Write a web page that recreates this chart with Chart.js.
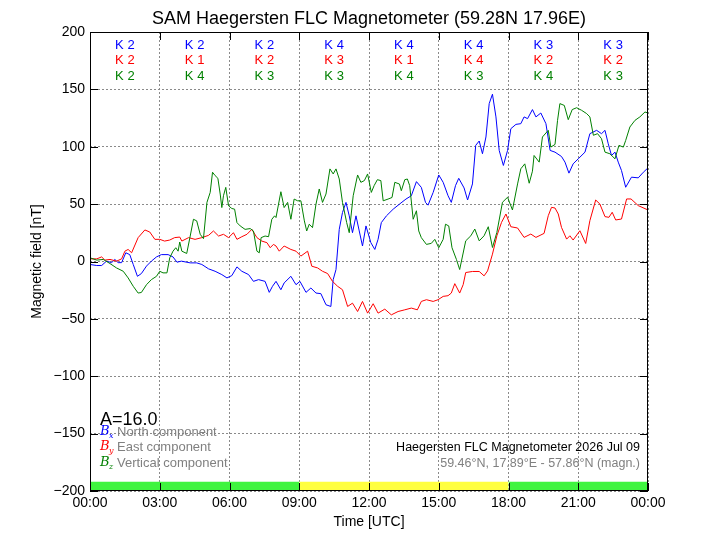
<!DOCTYPE html>
<html>
<head>
<meta charset="utf-8">
<script src="https://cdn.jsdelivr.net/npm/chart.js@4.4.0/dist/chart.umd.min.js"></script>
<style>
body { margin: 0; background: #fff; }
</style>
</head>
<body>
<canvas id="mag" width="720" height="540"></canvas>
<script>
// hours UTC / nT
var northT = [0, 0.29, 0.5, 0.71, 0.93, 1.07, 1.21, 1.36, 1.54, 1.71, 1.86, 2.04, 2.21, 2.43, 2.64, 2.86, 3.07, 3.36, 3.57, 3.74, 3.93,
    4.31, 4.59, 4.81, 5.10, 5.38, 5.67, 5.89, 6.10, 6.32, 6.53, 6.82, 7.03, 7.25, 7.53, 7.71, 7.85,
    8.0, 8.21, 8.35, 8.64, 8.86, 9.03, 9.29, 9.50, 9.72, 9.93, 10.15, 10.36, 10.46, 10.58, 10.72, 10.86, 11.01, 11.15, 11.29, 11.44, 11.58, 11.72, 11.87,
    12.08, 12.25, 12.39, 12.53, 12.75, 13.04, 13.31, 13.59, 13.82, 14.04, 14.25, 14.43, 14.54, 14.76, 15.0, 15.19, 15.40, 15.54, 15.72, 15.86,
    16.09, 16.24, 16.45, 16.59, 16.74, 16.88, 17.03, 17.17, 17.31, 17.46, 17.60, 17.78, 17.96, 18.10, 18.32, 18.53, 18.67, 18.82, 19.03, 19.18, 19.39, 19.61, 19.79,
    20.0, 20.28, 20.43, 20.60, 20.78, 21.0, 21.29, 21.50, 21.79, 22.0, 22.15, 22.29, 22.43, 22.58, 22.72, 22.86, 23.04, 23.29, 23.58, 23.80, 24.0]
var northV = [-2.6, -3.5, -3.5, 0.3, -1, 1.8, -1, -1, 7.6, 6, -2.6, -12.9, -10.5, -4, 0.3, 4, 6, 6, 4, -0.6, 0.3,
    -1.2, -1.2, -2.6, -6.4, -8.5, -11.4, -14.3, -12.3, -4.7, -8.5, -11.4, -17.3, -15.8, -17.3, -26.9, -21.6,
    -17.3, -24.6, -18.7, -12.9, -20.2, -17.3, -26.9, -23.1, -27.5, -28, -37.7, -39.2, -15.8, -7, 28, 42.7, 51.5, 39.8, 25.1, 39.8, 26.6, 13.5, 31,
    16.4, 10.5, 19.3, 33.9, 39.8, 45.6, 50, 54.4, 57.3, 69.6, 64.6, 51.5, 49.1, 60.2, 75.4, 69, 57.3, 51.5, 66.1, 72.5,
    64.1, 53.6, 67.6, 101.2, 105, 93.9, 108.5, 137.6, 145.8, 126, 96.8, 83.7, 96.8, 115.7, 119.5, 120.1, 126, 124.5, 132.4, 126, 129.4, 120.1, 96.8,
    95.3, 91.5, 86.6, 77, 85.1, 89.5, 95.3, 111.4, 114.3, 111.4, 114.3, 102.6, 92.4, 95.3, 86.6, 79.3, 64.7, 73.5, 72.9, 77.8, 81.6]

var eastT = [0, 0.29, 0.5, 0.64, 0.86, 1.14, 1.36, 1.5, 1.64, 1.79, 2.07, 2.36, 2.57, 2.79, 3.0, 3.21, 3.43, 3.64, 3.86,
    3.95, 4.24, 4.52, 4.81, 5.10, 5.31, 5.53, 5.74, 5.96, 6.17, 6.32, 6.53, 6.75, 6.96, 7.18, 7.39, 7.61, 7.75, 7.89,
    8.0, 8.14, 8.35, 8.64, 8.86, 9.07, 9.36, 9.54, 9.79, 10.0, 10.22, 10.43, 10.65, 10.86, 11.08, 11.29, 11.51, 11.72, 11.94,
    12.18, 12.39, 12.68, 12.96, 13.25, 13.54, 13.82, 14.08, 14.25, 14.47, 14.76, 14.97, 15.19, 15.40, 15.54, 15.69, 15.90, 16.05,
    16.16, 16.45, 16.74, 16.95, 17.10, 17.31, 17.50, 17.70, 17.89, 18.10, 18.39, 18.67, 18.96, 19.18, 19.53, 19.71, 19.85,
    20.0, 20.14, 20.28, 20.50, 20.64, 20.78, 21.07, 21.32, 21.50, 21.75, 21.93, 22.15, 22.32, 22.46, 22.61, 22.86, 23.08, 23.27, 23.58, 24.0]
var eastV = [2.3, 2.3, 4, 1.2, 1.8, 0.3, 2.3, 9, 10.5, 7.6, 20.8, 27.5, 25.7, 19.3, 19.3, 17.8, 18.7, 20.8, 21.3,
    17.8, 20.8, 19.3, 20.8, 22.8, 26.6, 22.2, 23.7, 20.8, 25.1, 19.3, 21.6, 23.7, 28, 20.8, 17.8, 16.4, 12, 14.9,
    13.5, 9, 13.5, 10.5, 9, 4.7, 9, -4.1, -5.6, -8.5, -10.5, -17.3, -21.6, -24.6, -39.2, -36.3, -43.6, -34.8, -45,
    -36.8, -45, -41.5, -46.5, -43.6, -42.1, -40.6, -42.1, -34.8, -33.3, -34.8, -33.3, -30.4, -29.8, -27.5, -19.3, -27.5, -20.2,
    -9.6, -8.7, -8.7, -12.5, -8.2, 6.4, 22.4, 34.1, 41.4, 30.3, 29.2, 21, 23.9, 21, 24.5, 39.9, 47.2,
    46.6, 41.4, 29.7, 19.5, 22.4, 18.7, 26.8, 15.7, 35.6, 53.6, 50.1, 39.1, 38.5, 42.9, 36.2, 37, 54.5, 54.5, 48.7, 44.9]

var vertT = [0, 0.29, 0.57, 0.86, 1.14, 1.43, 1.64, 1.86, 2.07, 2.21, 2.43, 2.64, 2.86, 3.0, 3.14, 3.31, 3.43, 3.57, 3.69, 3.79, 3.86,
    3.95, 4.16, 4.31, 4.45, 4.59, 4.74, 4.88, 5.03, 5.17, 5.27, 5.38, 5.50, 5.60, 5.67, 5.74, 5.84, 5.96, 6.10, 6.22, 6.32, 6.46, 6.67, 6.89, 7.03, 7.18, 7.28, 7.36, 7.53, 7.68, 7.82, 7.94,
    8.0, 8.21, 8.35, 8.50, 8.64, 8.78, 8.93, 9.07, 9.22, 9.32, 9.43, 9.57, 9.72, 9.86, 10.0, 10.15, 10.32, 10.46, 10.58, 10.72, 10.86, 11.04, 11.15, 11.32, 11.51, 11.65, 11.80, 11.94,
    12.10, 12.22, 12.36, 12.51, 12.61, 12.82, 12.99, 13.11, 13.31, 13.39, 13.54, 13.65, 13.75, 13.90, 14.04, 14.14, 14.25, 14.47, 14.68, 14.83, 15.0, 15.19, 15.29, 15.43, 15.57, 15.76, 15.90,
    16.16, 16.38, 16.55, 16.74, 16.95, 17.13, 17.31, 17.50, 17.74, 17.96, 18.17, 18.39, 18.53, 18.70, 18.89, 19.03, 19.10, 19.32, 19.46, 19.71, 19.82,
    20.0, 20.11, 20.21, 20.40, 20.57, 20.74, 20.93, 21.14, 21.36, 21.50, 21.65, 21.83, 22.0, 22.15, 22.36, 22.58, 22.75, 22.94, 23.04, 23.22, 23.44, 23.65, 23.87, 24.0]
var vertV = [3.2, 1.2, 1.8, -1.8, -5.6, -8.5, -14.3, -21.6, -27.5, -27, -20.2, -15.8, -12.9, -8.5, -9.9, -9.9, 3.2, 9, 12, 9, 17,
    9, 7, 22.2, 36.8, 35.4, 23.7, 19.9, 51.5, 60.2, 77.8, 74.9, 72.5, 58.8, 47, 57.3, 64.6, 48.5, 46.2, 45.6, 33.9, 31, 28, 28.7, 26.6, 9, 7.6, 20.8, 22.2, 21.6, 36.8, 39.8,
    38.3, 60.8, 47, 51.5, 36.8, 54.4, 52.9, 52.9, 35.4, 26.6, 32.5, 29.5, 50, 63.2, 51.5, 58.8, 80.7, 76.3, 80.7, 71.9, 51.5, 33.9, 25.1, 57.3, 75.4, 69, 70.5, 76.3,
    60.2, 66.1, 71.3, 70.5, 52.9, 54.4, 55.8, 69, 67.5, 61.7, 71.3, 71.9, 66.1, 36.8, 44.2, 26.6, 20.8, 14.9, 15.8, 19.3, 12, 19.3, 32.5, 31, 12, 1.8, -7,
    18, 22.4, 28.3, 18, 22.4, 30.3, 12.2, 25.4, 51.6, 56, 44.9, 67.6, 80.8, 85.1, 68.2, 78.7, 92.4, 86.6, 108.5, 114.3, 99.7,
    102, 123, 137.6, 136, 123.6, 132.4, 134, 131.8, 128.9, 126, 110, 111.4, 107, 95.3, 93.9, 89.5, 101.2, 99.7, 105.5, 117.2, 123, 126, 130.3, 129.4]

// K index per 3 hour block
var kNorth = [2, 2, 2, 4, 4, 4, 3, 3]
var kEast = [2, 1, 2, 3, 1, 4, 2, 2]
var kVert = [2, 4, 3, 3, 4, 3, 4, 3]

// activity band along the bottom
var bandFrom = [0, 9, 18]
var bandTo = [9, 18, 24]
var bandColor = ['#3ff43f', '#ffff3f', '#3ff43f']

var timeTicks = [0, 3, 6, 9, 12, 15, 18, 21, 24]
var timeLabels = ['00:00', '03:00', '06:00', '09:00', '12:00', '15:00', '18:00', '21:00', '00:00']

var FONT = '"Liberation Sans", Arial, sans-serif'
var BAND_TOP = -192

function pts(t, v) {
    var out = []
    for (var i = 0; i < t.length; i++) out.push({ x: t[i], y: v[i] })
    return out
}

var datasets = [
    { label: 'Bz', data: pts(vertT, vertV), borderColor: '#008000', order: 1 },
    { label: 'By', data: pts(eastT, eastV), borderColor: '#ff0000', order: 2 },
    { label: 'Bx', data: pts(northT, northV), borderColor: '#0000ff', order: 3 }
]
datasets.forEach(function (d) {
    d.borderWidth = 1
    d.pointRadius = 0
    d.tension = 0
    d.fill = false
})
for (var b = 0; b < bandFrom.length; b++) {
    datasets.push({
        data: [{ x: bandFrom[b], y: BAND_TOP }, { x: bandTo[b], y: BAND_TOP }],
        borderWidth: 0,
        pointRadius: 0,
        backgroundColor: bandColor[b],
        fill: { value: -200 },
        order: 10
    })
}

var decor = {
    id: 'decor',
    afterDraw: function (chart) {
        var ctx = chart.ctx
        var a = chart.chartArea
        var xs = chart.scales.x
        var ys = chart.scales.y
        ctx.save()

        // frame + inward ticks
        ctx.strokeStyle = '#000'
        ctx.lineWidth = 1
        ctx.strokeRect(a.left + 0.5, a.top + 0.5, a.right - a.left - 1, a.bottom - a.top - 1)
        ctx.beginPath()
        timeTicks.forEach(function (v) {
            var px = Math.round(xs.getPixelForValue(v)) + 0.5
            ctx.moveTo(px, a.bottom); ctx.lineTo(px, a.bottom - 8)
            ctx.moveTo(px, a.top); ctx.lineTo(px, a.top + 8)
        })
        for (var v = -200; v <= 200; v += 50) {
            var py = Math.round(ys.getPixelForValue(v)) + 0.5
            ctx.moveTo(a.left, py); ctx.lineTo(a.left + 8, py)
            ctx.moveTo(a.right, py); ctx.lineTo(a.right - 8, py)
        }
        ctx.stroke()

        // title and axis titles
        ctx.fillStyle = '#000'
        ctx.textAlign = 'center'
        ctx.textBaseline = 'middle'
        ctx.font = '18px ' + FONT
        ctx.fillText('SAM Haegersten FLC Magnetometer (59.28N 17.96E)', (a.left + a.right) / 2, 19)
        ctx.font = '14px ' + FONT
        ctx.fillText('Time [UTC]', (a.left + a.right) / 2, 522)
        ctx.save()
        ctx.translate(37, (a.top + a.bottom) / 2)
        ctx.rotate(-Math.PI / 2)
        ctx.fillText('Magnetic field [nT]', 0, 0)
        ctx.restore()

        // K indices
        ctx.font = '13px ' + FONT
        var rows = [[kNorth, '#0000ff', 45], [kEast, '#ff0000', 60], [kVert, '#008000', 76]]
        for (var i = 0; i < 8; i++) {
            var cx = xs.getPixelForValue(i * 3 + 1.5)
            rows.forEach(function (r) {
                ctx.fillStyle = r[1]
                ctx.fillText('K ' + r[0][i], cx, r[2])
            })
        }

        // legend
        ctx.textAlign = 'left'
        ctx.fillStyle = '#000'
        ctx.font = '18px ' + FONT
        ctx.fillText('A=16.0', a.left + 10, 420)
        var leg = [['x', '#0000ff', 'North component', 432], ['y', '#ff0000', 'East component', 447], ['z', '#008000', 'Vertical component', 463]]
        leg.forEach(function (l) {
            ctx.fillStyle = l[1]
            ctx.font = 'italic 13px "DejaVu Serif", serif'
            ctx.fillText('B', a.left + 10, l[3])
            ctx.font = 'italic 8px "DejaVu Serif", serif'
            ctx.fillText(l[0], a.left + 19, l[3] + 4)
            ctx.fillStyle = '#808080'
            ctx.font = '13px ' + FONT
            ctx.fillText(l[2], a.left + 27, l[3])
        })

        // station info
        ctx.textAlign = 'right'
        ctx.fillStyle = '#000'
        ctx.font = '12.5px ' + FONT
        ctx.fillText('Haegersten FLC Magnetometer 2026 Jul 09', a.right - 8, 448)
        ctx.fillStyle = '#808080'
        ctx.fillText('59.46\u00b0N, 17.89\u00b0E - 57.86\u00b0N (magn.)', a.right - 8, 464)
        ctx.restore()
    }
}

var grid = { color: '#8a8a8a', lineWidth: 1, drawTicks: false }

new Chart(document.getElementById('mag').getContext('2d'), {
    type: 'line',
    data: { datasets: datasets },
    options: {
        responsive: false,
        animation: false,
        devicePixelRatio: 1,
        layout: { padding: { top: 32, right: 72, left: 0, bottom: 0 } },
        plugins: { legend: { display: false }, tooltip: { enabled: false }, title: { display: false } },
        scales: {
            x: {
                type: 'linear', min: 0, max: 24,
                afterBuildTicks: function (s) { s.ticks = timeTicks.map(function (v) { return { value: v } }) },
                afterFit: function (s) { s.height = 49 },
                grid: grid,
                border: { display: false, dash: [2, 2] },
                ticks: {
                    padding: 4, color: '#000', font: { family: FONT, size: 14 }, maxRotation: 0,
                    callback: function (v) { return timeLabels[timeTicks.indexOf(v)] }
                }
            },
            y: {
                min: -200, max: 200,
                afterFit: function (s) { s.width = 90 },
                grid: grid,
                border: { display: false, dash: [2, 2] },
                ticks: {
                    stepSize: 50, padding: 5, color: '#000', font: { family: FONT, size: 14 },
                    callback: function (v) { return String(v).replace('-', '\u2212') }
                }
            }
        }
    },
    plugins: [decor]
})
</script>
</body>
</html>
